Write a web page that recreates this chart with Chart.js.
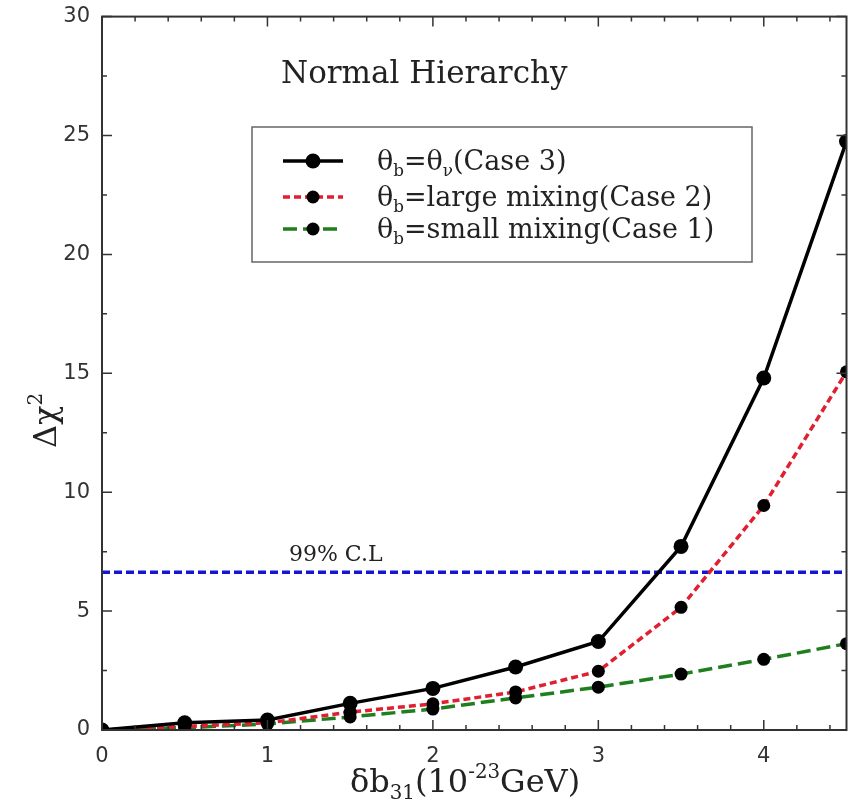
<!DOCTYPE html>
<html>
<head>
<meta charset="utf-8">
<script src="https://cdn.jsdelivr.net/npm/chart.js@4/dist/chart.umd.min.js"></script>
<style>
  html, body { margin: 0; padding: 0; background: #fff; }
  #wrap { width: 854px; height: 804px; }
</style>
</head>
<body>
<div id="wrap"><canvas id="chart" width="854" height="804"></canvas></div>
<script>
// Data
const deltaB = [0, 0.5, 1, 1.5, 2, 2.5, 3, 3.5, 4, 4.5];
const case3 = [0, 0.3, 0.42, 1.12, 1.75, 2.65, 3.72, 7.72, 14.8, 24.75];
const case2 = [0, 0.15, 0.3, 0.75, 1.1, 1.6, 2.47, 5.16, 9.44, 15.06];
const case1 = [0, 0.1, 0.25, 0.55, 0.88, 1.35, 1.8, 2.35, 2.97, 3.63];
const clLevel = 6.63;
const xTicks = [0, 1, 2, 3, 4];
const yTicks = [0, 5, 10, 15, 20, 25, 30];

const serif = '"DejaVu Serif", "Liberation Serif", serif';
const sans = '"DejaVu Sans", sans-serif';

function pts(ys) {
    return deltaB.map((x, i) => ({ x: x, y: ys[i] }));
}

// draws text with sub/superscripts, parts = [[text, 'n'|'sub'|'sup'], ...]
function richText(ctx, parts, x, y, size) {
    let cx = x;
    parts.forEach(p => {
        const s = p[1] === 'n' ? size : size * 0.62;
        const dy = p[1] === 'sub' ? size * 0.22 : (p[1] === 'sup' ? -size * 0.45 : 0);
        ctx.font = s + 'px ' + serif;
        ctx.fillText(p[0], cx, y + dy);
        cx += ctx.measureText(p[0]).width;
    });
    return cx;
}

const legendLabels = [
    [['θ', 'n'], ['b', 'sub'], ['=θ', 'n'], ['ν', 'sub'], ['(Case 3)', 'n']],
    [['θ', 'n'], ['b', 'sub'], ['=large mixing(Case 2)', 'n']],
    [['θ', 'n'], ['b', 'sub'], ['=small mixing(Case 1)', 'n']]
];

const decorPlugin = {
    id: 'decor',
    afterDatasetsDraw(chart) {
        const ctx = chart.ctx;
        const xs = chart.scales.x, ys = chart.scales.y;
        const a = chart.chartArea;
        ctx.save();

        // frame
        ctx.strokeStyle = '#333';
        ctx.lineWidth = 2;
        ctx.strokeRect(a.left, a.top, a.right - a.left, a.bottom - a.top);

        // inward ticks on all sides
        ctx.lineWidth = 1.5;
        ctx.beginPath();
        for (let v = 0; v <= 4.5001; v += 0.2) {
            const px = xs.getPixelForValue(v);
            const major = Math.abs(v - Math.round(v)) < 1e-6;
            const len = major ? 10 : 5;
            ctx.moveTo(px, a.bottom); ctx.lineTo(px, a.bottom - len);
            ctx.moveTo(px, a.top); ctx.lineTo(px, a.top + len);
        }
        for (let v = 0; v <= 30; v += 2.5) {
            const py = ys.getPixelForValue(v);
            const len = v % 5 === 0 ? 10 : 5;
            ctx.moveTo(a.left, py); ctx.lineTo(a.left + len, py);
            ctx.moveTo(a.right, py); ctx.lineTo(a.right - len, py);
        }
        ctx.stroke();

        // texts inside plot
        ctx.fillStyle = '#222';
        ctx.textBaseline = 'alphabetic';
        ctx.textAlign = 'left';
        ctx.font = '31px ' + serif;
        ctx.fillText('Normal Hierarchy', 281, 83);
        ctx.font = '22px ' + serif;
        ctx.fillText('99% C.L', xs.getPixelForValue(1.13), ys.getPixelForValue(clLevel) - 11);

        // legend box
        ctx.fillStyle = '#fff';
        ctx.fillRect(252, 127, 500, 135);
        ctx.strokeStyle = '#666';
        ctx.lineWidth = 1.5;
        ctx.strokeRect(252, 127, 500, 135);
        const rows = [161, 197, 229];
        [0, 1, 2].forEach(i => {
            const ds = chart.data.datasets[i];
            const y = rows[i];
            ctx.strokeStyle = ds.borderColor;
            ctx.lineWidth = ds.borderWidth;
            ctx.setLineDash(ds.borderDash || []);
            ctx.beginPath();
            ctx.moveTo(283, y); ctx.lineTo(343, y);
            ctx.stroke();
            ctx.setLineDash([]);
            ctx.fillStyle = '#000';
            ctx.beginPath();
            ctx.arc(313, y, ds.pointRadius, 0, Math.PI * 2);
            ctx.fill();
            ctx.fillStyle = '#222';
            richText(ctx, legendLabels[i], 377, y + 9, 27);
        });

        // axis titles
        ctx.fillStyle = '#222';
        richText(ctx, [['δb', 'n'], ['31', 'sub'], ['(10', 'n'], ['-23', 'sup'], ['GeV)', 'n']], 350, 792, 32);
        ctx.save();
        ctx.translate(56, 420);
        ctx.rotate(-Math.PI / 2);
        richText(ctx, [['Δχ', 'n'], ['2', 'sup']], -28, 0, 32);
        ctx.restore();

        ctx.restore();
    }
};

new Chart(document.getElementById('chart'), {
    type: 'line',
    data: {
        datasets: [
            { label: 'Case 3', data: pts(case3), borderColor: '#000', borderWidth: 3.5,
              pointRadius: 7.5, pointBackgroundColor: '#000', pointBorderWidth: 0, order: 1 },
            { label: 'Case 2', data: pts(case2), borderColor: '#e02030', borderWidth: 3.5, borderDash: [7, 4],
              pointRadius: 6.5, pointBackgroundColor: '#000', pointBorderWidth: 0, order: 2 },
            { label: 'Case 1', data: pts(case1), borderColor: '#1f7f1f', borderWidth: 3.5, borderDash: [14, 6],
              pointRadius: 6.5, pointBackgroundColor: '#000', pointBorderWidth: 0, order: 3 },
            { label: '99% C.L', data: [{ x: 0, y: clLevel }, { x: 4.5, y: clLevel }], borderColor: '#1515d0',
              borderWidth: 3.5, borderDash: [8, 4], pointRadius: 0, order: 4 }
        ]
    },
    options: {
        responsive: false,
        animation: false,
        layout: { padding: { top: 15, right: 5, left: 0, bottom: 0 } },
        plugins: { legend: { display: false }, tooltip: { enabled: false } },
        scales: {
            x: {
                type: 'linear', min: 0, max: 4.5,
                grid: { display: false },
                border: { display: false },
                afterBuildTicks: s => { s.ticks = xTicks.map(v => ({ value: v })); },
                afterFit: s => { s.height = 74; },
                ticks: { font: { family: sans, size: 21 }, color: '#333', padding: 6, maxRotation: 0 }
            },
            y: {
                type: 'linear', min: 0, max: 30,
                grid: { display: false },
                border: { display: false },
                afterBuildTicks: s => { s.ticks = yTicks.map(v => ({ value: v })); },
                afterFit: s => { s.width = 102; },
                ticks: { font: { family: sans, size: 21 }, color: '#333', padding: 4 }
            }
        }
    },
    plugins: [decorPlugin]
});
</script>
</body>
</html>
